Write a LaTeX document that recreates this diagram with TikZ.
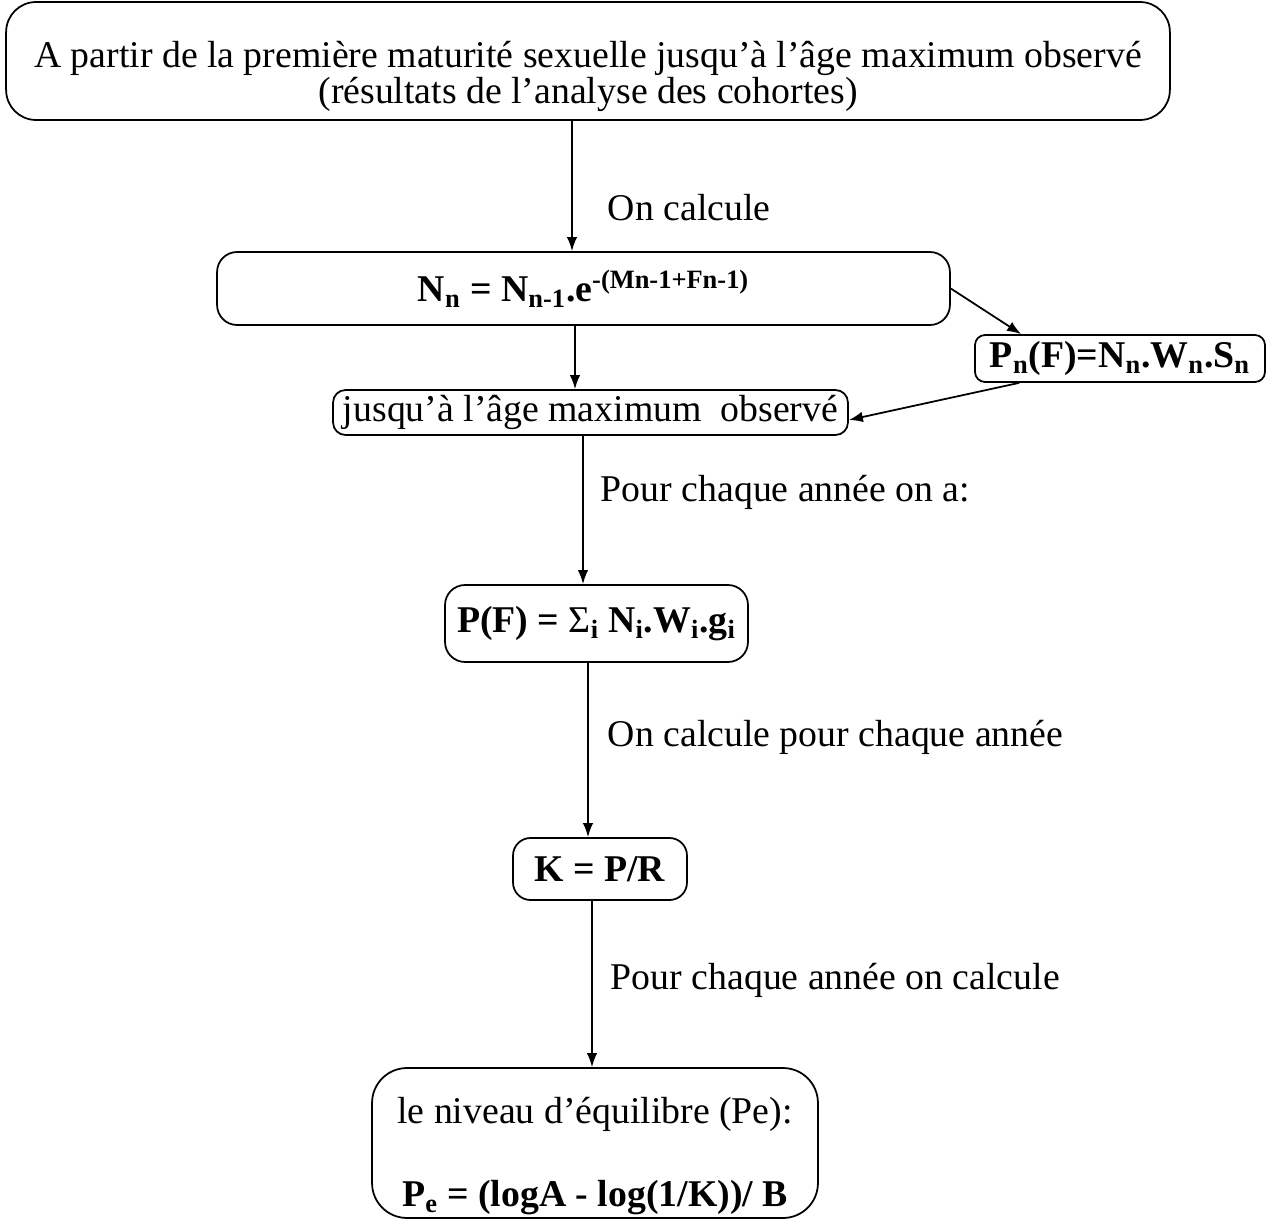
\documentclass[tikz,border=0pt]{standalone}
\usepackage{fontspec}
\setmainfont{Liberation Serif}
\usetikzlibrary{arrows.meta}

\tikzset{
  box/.style={draw,rounded corners=#1,align=center,inner sep=0pt},
  box/.default=0.4cm,
  lab/.style={anchor=west,inner sep=0pt}
}

\begin{document}
\begin{tikzpicture}
  [x=0.02cm,y=-0.02cm,>={Latex[length=8pt,width=6pt]},line width=1pt,
   font=\fontsize{21.5}{20.5}\selectfont]
  \useasboundingbox (0,0) rectangle (1279,1220);

  \node (debut) [box=0.6cm,minimum width=23.28cm,minimum height=2.36cm] at (588,61)
    {\rule{0pt}{1.15cm}A partir de la première maturité sexuelle jusqu’à l’âge maximum observé\\
     (résultats de l’analyse des cohortes)};
  \node (formN) [box,minimum width=14.66cm,minimum height=1.46cm] at (583.5,288.5)
    {\textbf{N\textsubscript{n} = N\textsubscript{n-1}.e\textsuperscript{-(Mn-1+Fn-1)}}};
  \node (formP) [box=0.2cm,minimum width=5.8cm,minimum height=0.94cm] at (1120,358.5)
    {\textbf{P\textsubscript{n}(F)=N\textsubscript{n}.W\textsubscript{n}.S\textsubscript{n}}};
  \node (seuil) [box=0.25cm,minimum width=10.3cm,minimum height=0.9cm] at (590.5,412.5)
    {jusqu’à l’âge maximum\ \ observé};
  \node (somme) [box,minimum width=6.06cm,minimum height=1.54cm] at (596.5,623.5)
    {\textbf{P(F) = }Σ\textsubscript{\textbf{i}} \textbf{N\textsubscript{i}.W\textsubscript{i}.g\textsubscript{i}}};
  \node (rapport) [box=0.35cm,minimum width=3.48cm,minimum height=1.24cm] at (600,869)
    {\textbf{K = P/R}};
  \node (equil) [box=0.7cm,minimum width=8.92cm,minimum height=3cm] at (595,1143)
    {\rule{0pt}{1.04cm}le niveau d’équilibre (Pe):\\[27pt]
     \textbf{P\textsubscript{e} = (logA - log(1/K))/ B}};

  % labels beside the arrows
  \node (lab1) [lab] at (607,208) {On calcule};
  \node (lab2) [lab] at (600,492) {Pour chaque année on a:};
  \node (lab3) [lab] at (607,737) {On calcule pour chaque année};
  \node (lab4) [lab] at (610,980) {Pour chaque année on calcule};

  \coordinate (c1) at (572,0);
  \coordinate (c2) at (575,0);
  \coordinate (c3) at (583,0);
  \coordinate (c4) at (588,0);
  \coordinate (c5) at (592,0);

\draw [->] (debut.south -| c1) -- (formN.north -| c1);
\draw [->] (formN.south -| c2) -- (seuil.north -| c2);
\draw [->] (seuil.south -| c3) -- (somme.north -| c3);
\draw [->] (somme.south -| c4) -- (rapport.north -| c4);
\draw [->] (rapport.south -| c5) -- (equil.north -| c5);
\draw [->] (formN.east) -- ([xshift=0.94cm]formP.north west);
\draw [->] ([xshift=0.9cm]formP.south west) -- ([yshift=-0.15cm]seuil.east);
\end{tikzpicture}
\end{document}
